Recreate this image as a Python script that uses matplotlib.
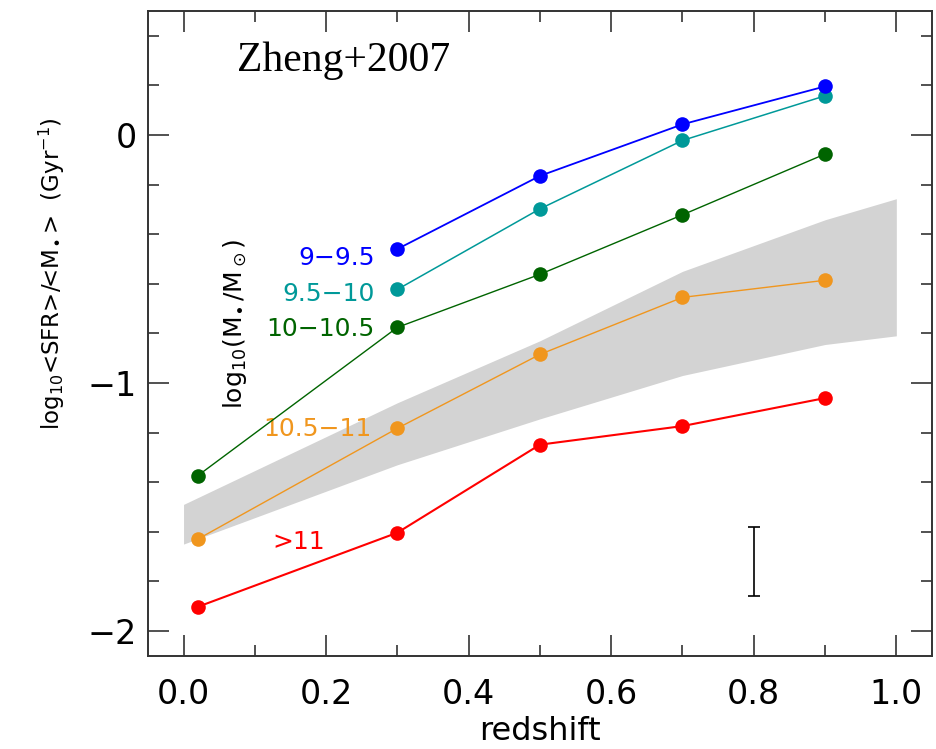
import numpy as np
import matplotlib
matplotlib.use('Agg')
import matplotlib.pyplot as plt
from matplotlib.ticker import MultipleLocator

# redshift bins
z = [0.02, 0.3, 0.5, 0.7, 0.9]
# log10 <SFR>/<M*> per mass bin
ssfr_9 = [np.nan, -0.46, -0.165, 0.043, 0.196]
ssfr_95 = [np.nan, -0.623, -0.298, -0.022, 0.158]
ssfr_10 = [-1.374, -0.776, -0.562, -0.322, -0.077]
ssfr_105 = [-1.63, -1.183, -0.885, -0.655, -0.586]
ssfr_11 = [-1.903, -1.604, -1.249, -1.174, -1.061]

bin_labels = ['9\u22129.5', '9.5\u221210', '10\u221210.5', '10.5\u221211', '>11']
bin_colors = ['#0000ff', '#009999', '#006400', '#f0961e', '#ff0000']
bin_lw = [1.3, 1.1, 1.0, 1.0, 1.5]
# label anchor (right edge) positions
lab_x = [0.268, 0.268, 0.268, 0.264, 0.198]
lab_y = [-0.498, -0.643, -0.784, -1.187, -1.641]

# grey band
band_z = [0.0, 0.3, 0.5, 0.7, 0.9, 1.0]
band_hi = [-1.49, -1.08, -0.83, -0.55, -0.342, -0.257]
band_lo = [-1.65, -1.33, -1.145, -0.97, -0.845, -0.81]

# typical error bar
err_z = 0.8
err_y = -1.72
err_size = 0.14

plt.rcParams['font.family'] = ['DejaVu Sans']
plt.rcParams['mathtext.fontset'] = 'dejavusans'

fig = plt.figure(figsize=(9.36, 7.49), dpi=100)
ax = fig.add_axes([0.158, 0.1246, 0.8377, 0.8607])

ax.fill_between(band_z, band_lo, band_hi, color='#d3d3d3', lw=0, zorder=1)

series = [ssfr_11, ssfr_105, ssfr_10, ssfr_95, ssfr_9]
for k, s in enumerate(series):
    i = 4 - k
    ax.plot(z, s, '-o', color=bin_colors[i], lw=bin_lw[i], ms=10.5,
            markeredgewidth=0, zorder=3 + k)

for i in range(5):
    ax.text(lab_x[i], lab_y[i], bin_labels[i], color=bin_colors[i],
            fontsize=18, ha='right', va='center')

ax.text(0.075, 0.30, 'Zheng+2007', family='Liberation Serif', fontsize=30,
        ha='left', va='center')
ax.text(0.072, -0.76, r'log$_{10}$(M$_{\!\bullet}$/M$_\odot$)', fontsize=18,
        rotation=90, ha='center', va='center')

ax.errorbar([err_z], [err_y], yerr=[err_size], fmt='none', ecolor='black',
            elinewidth=1.2, capsize=4, capthick=1.2)

ax.set_xlim(-0.05, 1.05)
ax.set_ylim(-2.1, 0.5)
ax.xaxis.set_major_locator(MultipleLocator(0.2))
ax.xaxis.set_minor_locator(MultipleLocator(0.1))
ax.yaxis.set_major_locator(MultipleLocator(1))
ax.yaxis.set_minor_locator(MultipleLocator(0.2))
ax.xaxis.set_major_formatter(plt.FormatStrFormatter('%.1f'))
ax.tick_params(which='both', direction='in', top=True, right=True,
               color='#333333', width=1.2)
ax.tick_params(which='major', length=15, labelsize=24)
ax.tick_params(which='minor', length=8)
ax.tick_params(axis='x', which='major', pad=16)
ax.tick_params(axis='y', which='major', pad=8)
for sp in ax.spines.values():
    sp.set_color('#333333')
    sp.set_linewidth(1.4)

ax.set_xlabel('redshift', fontsize=23, labelpad=4)
fig.text(52 / 936, 1 - 274 / 749,
         r'log$_{10}$<SFR>/<M$_{\!\bullet}$>  (Gyr$^{-1}$)', fontsize=16.5,
         rotation=90, ha='center', va='center')

plt.savefig('out.png', dpi=100)
